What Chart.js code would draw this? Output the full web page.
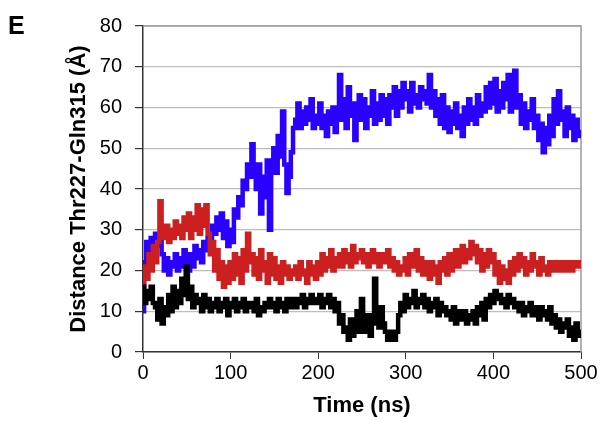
<!DOCTYPE html>
<html>
<head>
<meta charset="utf-8">
<script src="https://cdn.jsdelivr.net/npm/chart.js@4"></script>
<style>
  html, body { margin: 0; padding: 0; background: #fff; }
  #wrap { width: 600px; height: 421px; position: relative; }
</style>
</head>
<body>
<div id="wrap"><canvas id="distChart"></canvas></div>
<script>
// sampling every 2.5 ns, 0..500
const timeNs = Array.from({length: 201}, (_, i) => i * 2.5);

const blueDist = [
  10, 22, 27, 25, 28, 24, 29, 26, 27, 24,
  20, 23, 19, 22, 21, 24, 20, 23, 21, 25,
  22, 20, 24, 21, 26, 23, 25, 22, 27, 25,
  28, 26, 31, 29, 33, 30, 34, 28, 32, 26,
  30, 27, 35, 33, 38, 36, 42, 40, 46, 43,
  51, 44, 40, 46, 34, 43, 38, 47, 30, 45,
  50, 44, 53, 48, 59, 46, 39, 43, 49, 55,
  57, 61, 55, 59, 56, 60, 57, 62, 55, 58,
  56, 61, 55, 58, 53, 59, 56, 60, 54, 58,
  68, 57, 62, 55, 65, 58, 61, 52, 60, 63,
  57, 62, 55, 60, 58, 64, 56, 61, 57, 63,
  58, 62, 56, 63, 60, 65, 58, 64, 60, 66,
  62, 64, 59, 66, 61, 63, 60, 65, 62, 64,
  61, 68, 60, 64, 58, 62, 56, 63, 55, 60,
  54, 59, 56, 61, 55, 58, 53, 60, 56, 62,
  57, 60, 56, 63, 58, 61, 59, 65, 60, 66,
  61, 67, 59, 64, 60, 66, 62, 68, 59, 65,
  69, 60, 63, 56, 61, 55, 59, 57, 62, 55,
  58, 52, 56, 49, 55, 51, 58, 53, 62, 56,
  64, 57, 59, 53, 60, 55, 58, 52, 57, 54,
  53
];

const redDist = [
  16, 21, 18, 24, 20, 26, 22, 27, 37, 30,
  28, 31, 27, 30, 28, 32, 29, 31, 28, 33,
  30, 34, 28, 33, 30, 36, 29, 35, 31, 36,
  29, 24, 27, 20, 25, 18, 22, 16, 21, 17,
  22, 18, 24, 19, 23, 17, 25, 20, 29, 22,
  24, 19, 23, 18, 25, 20, 22, 17, 24, 19,
  23, 18, 21, 17, 22, 19, 21, 18, 20, 19,
  21, 18, 22, 19, 20, 17, 22, 19, 21, 18,
  22, 19, 24, 20, 23, 21, 25, 20, 23, 21,
  24, 21, 25, 22, 24, 21, 26, 22, 24, 23,
  25, 22, 24, 21, 23, 25, 22, 24, 21, 23,
  24, 22, 25, 21, 23, 20, 22, 19, 21, 20,
  23, 19, 24, 21, 22, 25, 20, 23, 19, 22,
  21, 18, 22, 19, 21, 17, 22, 20, 23, 19,
  24, 20, 22, 25, 21, 23, 26, 22, 25, 23,
  27, 24, 26, 22, 25, 20, 24, 21, 25, 22,
  24, 19, 22, 17, 21, 18, 20, 17, 22, 19,
  23, 20, 24, 21, 23, 19, 22, 20, 24, 21,
  22, 19, 23, 20, 21, 19, 22, 20, 21, 22,
  20, 22, 21, 20, 22, 21, 20, 22, 21, 22,
  21
];

const blackDist = [
  16, 12, 15, 13, 16, 12, 11, 8, 13, 7,
  11, 9, 14, 10, 16, 11, 15, 12, 18, 14,
  21, 13, 16, 11, 14, 12, 13, 10, 14, 11,
  13, 10, 12, 11, 13, 10, 12, 11, 13, 9,
  12, 11, 13, 10, 12, 11, 13, 10, 12, 11,
  12, 10, 13, 9, 11, 10, 12, 11, 13, 11,
  12, 10, 13, 11, 12, 10, 13, 11, 12, 13,
  11, 13, 12, 14, 11, 13, 12, 14, 12, 13,
  12, 14, 11, 13, 12, 14, 11, 13, 10, 12,
  7, 9, 5, 6, 3, 8, 4, 7, 10, 5,
  13, 8, 5, 9, 4, 7, 18, 10, 6, 11,
  7, 5, 3, 5, 4, 3, 5, 9, 12, 10,
  14, 11, 13, 12, 15, 11, 13, 12, 14, 11,
  13, 10, 12, 11, 13, 9, 12, 10, 11, 9,
  10, 8, 11, 7, 10, 9, 8, 10, 7, 9,
  8, 10, 7, 11, 9, 12, 8, 13, 11, 14,
  12, 15, 13, 14, 12, 13, 11, 14, 12, 13,
  11, 12, 10, 12, 9, 11, 10, 12, 9, 11,
  10, 8, 11, 9, 10, 8, 11, 7, 9, 6,
  8, 5, 7, 6, 8, 4, 6, 3, 7, 4,
  5
];

const xTitle = 'Time (ns)';
const yTitle = 'Distance Thr227-Gln315 (Å)';
const panelLabel = 'E';

const fontFam = '"Liberation Sans", Arial, sans-serif';

function toPoints(vals) {
  return vals.map((v, i) => ({x: timeNs[i], y: v}));
}

// frame on top/right + panel letter
const framePlugin = {
  id: 'frame',
  beforeDatasetsDraw(chart) {
    const {ctx, chartArea: a} = chart;
    ctx.save();
    ctx.strokeStyle = '#9a9a9a';
    ctx.lineWidth = 1.5;
    ctx.beginPath();
    ctx.moveTo(a.left, a.top);
    ctx.lineTo(a.right, a.top);
    ctx.lineTo(a.right, a.bottom);
    ctx.stroke();
    ctx.restore();
  },
  afterDraw(chart) {
    const ctx = chart.ctx;
    ctx.save();
    ctx.fillStyle = '#000';
    ctx.font = 'bold 25px ' + fontFam;
    ctx.textBaseline = 'alphabetic';
    ctx.fillText(panelLabel, 8, 34);
    ctx.restore();
  }
};

new Chart(document.getElementById('distChart'), {
  type: 'line',
  data: {
    datasets: [
      {label: 'black', data: toPoints(blackDist), borderColor: '#000000'},
      {label: 'red', data: toPoints(redDist), borderColor: '#cc1f1f'},
      {label: 'blue', data: toPoints(blueDist), borderColor: '#2a00ff'}
    ]
  },
  options: {
    responsive: true,
    maintainAspectRatio: false,
    animation: false,
    layout: {padding: {top: 26, right: 19, left: 0, bottom: 0}},
    elements: {
      line: {borderWidth: 4.5, tension: 0, stepped: 'middle', borderJoinStyle: 'miter'},
      point: {radius: 0}
    },
    plugins: {
      legend: {display: false},
      tooltip: {enabled: false}
    },
    scales: {
      x: {
        type: 'linear',
        min: 0,
        max: 500,
        ticks: {stepSize: 100, color: '#000', font: {family: fontFam, size: 20}, padding: 2},
        grid: {drawOnChartArea: false, drawTicks: true, tickLength: 7, tickColor: '#333'},
        border: {color: '#333', width: 1.5},
        title: {display: true, text: xTitle, color: '#000', font: {family: fontFam, size: 22, weight: 'bold'}, padding: {top: 0, bottom: 2}},
        afterFit(s) { s.height = 69; }
      },
      y: {
        min: 0,
        max: 80,
        ticks: {stepSize: 10, color: '#000', font: {family: fontFam, size: 20}, padding: 13},
        grid: {color: '#bdbdbd', lineWidth: 1.2, tickLength: 8, tickColor: '#333'},
        border: {color: '#333', width: 1.5},
        title: {display: true, text: yTitle, color: '#000', font: {family: fontFam, size: 22, weight: 'bold'}, padding: {top: 66, bottom: 0}},
        afterFit(s) { s.width = 143; }
      }
    }
  },
  plugins: [framePlugin]
});
</script>
</body>
</html>
